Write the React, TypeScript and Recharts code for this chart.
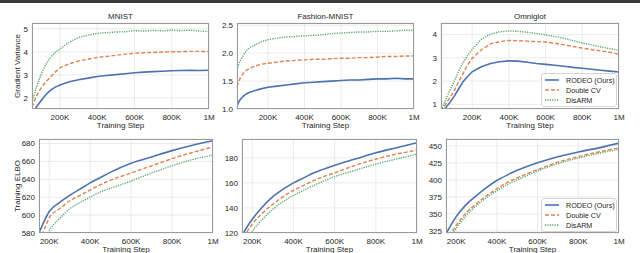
import { LineChart, Line, XAxis, YAxis, CartesianGrid, Legend } from "recharts";

// ---- data (step in thousands) ----
const mnistSteps = [50, 60, 75, 100, 125, 150, 175, 200, 250, 300, 350, 400, 450, 500, 550, 600, 650, 700, 750, 800, 850, 900, 950, 1000];
const mnistRodeo = [1.2, 1.45, 1.62, 1.9, 2.15, 2.34, 2.47, 2.56, 2.7, 2.79, 2.86, 2.93, 2.97, 3.01, 3.05, 3.09, 3.12, 3.14, 3.16, 3.18, 3.19, 3.2, 3.19, 3.2];
const mnistDoubleCV = [1.6, 1.8, 2.1, 2.45, 2.7, 2.92, 3.12, 3.3, 3.48, 3.6, 3.68, 3.76, 3.8, 3.85, 3.9, 3.94, 3.96, 3.97, 3.99, 4.0, 4.01, 4.02, 4.02, 4.01];
const mnistDisarm = [1.8, 2.1, 2.5, 3.05, 3.45, 3.77, 3.98, 4.12, 4.42, 4.62, 4.72, 4.8, 4.83, 4.86, 4.87, 4.92, 4.9, 4.93, 4.91, 4.94, 4.92, 4.94, 4.9, 4.88];

const fashionSteps = [30, 40, 50, 65, 80, 100, 130, 160, 200, 250, 300, 350, 400, 450, 500, 550, 600, 650, 700, 750, 800, 850, 900, 950, 1000];
const fashionRodeo = [1.05, 1.13, 1.18, 1.23, 1.27, 1.3, 1.33, 1.36, 1.39, 1.41, 1.43, 1.45, 1.47, 1.48, 1.49, 1.5, 1.51, 1.52, 1.52, 1.53, 1.54, 1.54, 1.55, 1.54, 1.54];
const fashionDoubleCV = [1.4, 1.5, 1.57, 1.64, 1.69, 1.73, 1.77, 1.8, 1.82, 1.84, 1.86, 1.87, 1.88, 1.89, 1.89, 1.9, 1.91, 1.91, 1.92, 1.92, 1.93, 1.94, 1.94, 1.95, 1.95];
const fashionDisarm = [1.7, 1.8, 1.88, 1.96, 2.04, 2.1, 2.15, 2.2, 2.24, 2.27, 2.29, 2.3, 2.31, 2.32, 2.33, 2.35, 2.36, 2.37, 2.38, 2.38, 2.39, 2.39, 2.4, 2.41, 2.41];

const omniSteps = [30, 50, 75, 100, 125, 150, 175, 200, 250, 300, 350, 400, 450, 500, 550, 600, 650, 700, 750, 800, 850, 900, 950, 1000];
const omniRodeo = [0.6, 0.8, 1.05, 1.32, 1.65, 1.97, 2.2, 2.4, 2.62, 2.76, 2.83, 2.87, 2.86, 2.81, 2.76, 2.72, 2.68, 2.64, 2.59, 2.55, 2.51, 2.47, 2.43, 2.39];
const omniDoubleCV = [0.7, 0.95, 1.25, 1.55, 1.95, 2.33, 2.7, 2.98, 3.35, 3.6, 3.7, 3.75, 3.74, 3.72, 3.7, 3.68, 3.63, 3.56, 3.49, 3.42, 3.36, 3.3, 3.24, 3.16];
const omniDisarm = [0.75, 1.1, 1.55, 1.95, 2.4, 2.8, 3.1, 3.37, 3.8, 4.02, 4.12, 4.16, 4.14, 4.1, 4.05, 3.99, 3.92, 3.84, 3.74, 3.64, 3.56, 3.47, 3.4, 3.32];

const elboSteps = [150, 175, 200, 250, 300, 350, 400, 450, 500, 600, 700, 800, 900, 1000];
const mnistElboRodeo = [580, 593, 604, 614, 622, 629, 636, 642, 648, 658, 665, 672, 678, 683];
const mnistElboDoubleCV = [572, 584, 597, 607, 616, 622, 628, 634, 639, 647, 655, 663, 670, 676];
const mnistElboDisarm = [555, 568, 582, 596, 607, 614, 620, 626, 630, 638, 647, 655, 662, 667];
const fashionElboRodeo = [118, 125, 131, 141, 149, 155, 160, 164, 168, 174, 179, 184, 188, 192];
const fashionElboDoubleCV = [112, 121, 127, 136, 143, 149, 154, 158, 162, 168, 174, 179, 183, 186];
const fashionElboDisarm = [105, 113, 121, 131, 139, 145, 150, 154, 158, 165, 170, 175, 179, 183];
const omniElboRodeo = [321, 334, 346, 364, 377, 389, 399, 407, 414, 425, 434, 441, 447, 454];
const omniElboDoubleCV = [310, 322, 333, 352, 365, 377, 387, 396, 403, 415, 426, 434, 441, 447];
const omniElboDisarm = [306, 318, 329, 348, 362, 374, 384, 393, 400, 413, 424, 432, 439, 445];

const xTicks = [200000, 400000, 600000, 800000, 1000000];
const seriesNames = ["RODEO (Ours)", "Double CV", "DisARM"];

const FONT = '"Liberation Sans", Arial, sans-serif';
const TEXT = "#262626";
const BLUE = "#4c72b0";
const ORANGE = "#dd8452";
const GREEN = "#55a868";

const rows = (steps: number[], a: number[], b: number[], c: number[]) =>
  steps.map((s, i) => ({ step: s * 1000, rodeo: a[i], dcv: b[i], disarm: c[i] }));

const fmtX = (v: number) => (v >= 1000000 ? "1M" : `${v / 1000}K`);

const YW = 28;
const MT = 2;
const MR = 12;
const XH = 14;

function LegendBox() {
  const items = [
    { name: seriesNames[0], color: BLUE, dash: undefined, w: 1.6 },
    { name: seriesNames[1], color: ORANGE, dash: "4 2", w: 1.4 },
    { name: seriesNames[2], color: GREEN, dash: "1.2 1.2", w: 1.4 },
  ];
  return (
    <div
      style={{
        border: "1px solid #d4d4d4",
        borderRadius: 3,
        background: "rgba(255,255,255,0.9)",
        padding: "1px 0 1px 2px",
        boxSizing: "border-box",
        width: 76,
        fontFamily: FONT,
        fontSize: 7.2,
        color: TEXT,
      }}
    >
      {items.map((it) => (
        <div key={it.name} style={{ display: "flex", alignItems: "center", height: 10 }}>
          <svg width={16} height={6} style={{ marginRight: 6 }}>
            <line x1={1} y1={3} x2={15} y2={3} stroke={it.color} strokeWidth={it.w} strokeDasharray={it.dash} />
          </svg>
          <span>{it.name}</span>
        </div>
      ))}
    </div>
  );
}

type PanelProps = {
  x: number;
  y: number;
  w: number;
  h: number;
  data: any[];
  xMin: number;
  yDomain: [number, number];
  yTicks: number[];
  yFmt?: (v: number) => string;
  title?: string;
  legendAt?: [number, number];
  smooth?: boolean;
};

function Panel({ x, y, w, h, data, xMin, yDomain, yTicks, yFmt, title, legendAt, smooth }: PanelProps) {
  const lineType = smooth ? "monotone" : "linear";
  return (
    <>
      {title && (
        <div
          style={{
            position: "absolute",
            left: x,
            width: w,
            top: y - 10,
            textAlign: "center",
            fontFamily: FONT,
            fontSize: 8,
            color: TEXT,
            lineHeight: "8px",
          }}
        >
          {title}
        </div>
      )}
      <div style={{ position: "absolute", left: x - YW, top: y - MT }}>
        <LineChart width={YW + w + MR} height={MT + h + XH} data={data} margin={{ top: MT, right: MR, left: 0, bottom: 0 }}>
          <CartesianGrid stroke="#e6e6e6" strokeWidth={0.8} />
          <XAxis
            dataKey="step"
            type="number"
            domain={[xMin, 1000000]}
            allowDataOverflow
            ticks={xTicks}
            tickFormatter={fmtX}
            height={XH}
            axisLine={false}
            tickLine={false}
            tickSize={3}
            tickMargin={2}
            tick={{ fontSize: 8, fill: TEXT, fontFamily: FONT }}
            interval={0}
          />
          <YAxis
            type="number"
            domain={yDomain}
            allowDataOverflow
            ticks={yTicks}
            tickFormatter={yFmt}
            width={YW}
            axisLine={false}
            tickLine={false}
            tickSize={2}
            tickMargin={2}
            tick={{ fontSize: 8, fill: TEXT, fontFamily: FONT }}
            interval={0}
          />
          <Line type={lineType} dataKey="rodeo" stroke={BLUE} strokeWidth={1.6} dot={false} isAnimationActive={false} />
          <Line type={lineType} dataKey="dcv" stroke={ORANGE} strokeWidth={1.4} strokeDasharray="4 2" dot={false} isAnimationActive={false} />
          <Line type={lineType} dataKey="disarm" stroke={GREEN} strokeWidth={1.4} strokeDasharray="1.2 1.2" dot={false} isAnimationActive={false} />
          {legendAt && (
            <Legend
              layout="vertical"
              align="center"
              verticalAlign="middle"
              content={() => <LegendBox />}
              wrapperStyle={{ left: legendAt[0] - (x - YW), top: legendAt[1] - (y - MT), right: "auto", bottom: "auto", width: 76 }}
            />
          )}
        </LineChart>
      </div>
      <div
        style={{
          position: "absolute",
          left: x,
          top: y,
          width: w,
          height: h,
          border: "1px solid #9a9a9a",
          boxSizing: "border-box",
          pointerEvents: "none",
        }}
      />
      <div
        style={{
          position: "absolute",
          left: x,
          width: w,
          top: y + h + 13,
          textAlign: "center",
          fontFamily: FONT,
          fontSize: 8,
          color: TEXT,
          lineHeight: "8px",
        }}
      >
        Training Step
      </div>
    </>
  );
}

function YLabel({ text, cx, cy }: { text: string; cx: number; cy: number }) {
  return (
    <div
      style={{
        position: "absolute",
        left: cx - 50,
        top: cy - 5,
        width: 100,
        height: 10,
        lineHeight: "10px",
        textAlign: "center",
        transform: "rotate(-90deg)",
        fontFamily: FONT,
        fontSize: 8,
        color: TEXT,
        whiteSpace: "nowrap",
      }}
    >
      {text}
    </div>
  );
}

export default function App() {
  return (
    <div style={{ position: "absolute", left: 0, top: 0, width: 640, height: 253, background: "#fff", overflow: "hidden" }}>
      <div style={{ position: "absolute", left: 0, top: 0, width: 640, height: 3, background: "#3a3a3a" }} />

      <Panel x={32} y={23} w={177} h={86} data={rows(mnistSteps, mnistRodeo, mnistDoubleCV, mnistDisarm)} xMin={50000} yDomain={[1.52, 5.25]} yTicks={[2, 3, 4, 5]} title="MNIST" />
      <Panel x={237} y={23} w={177} h={86} data={rows(fashionSteps, fashionRodeo, fashionDoubleCV, fashionDisarm)} xMin={30000} yDomain={[1.0, 2.54]} yTicks={[1.0, 1.5, 2.0, 2.5]} yFmt={(v) => v.toFixed(1)} title="Fashion-MNIST" />
      <Panel x={441} y={23} w={178} h={86} data={rows(omniSteps, omniRodeo, omniDoubleCV, omniDisarm)} xMin={30000} yDomain={[0.8, 4.5]} yTicks={[1, 2, 3, 4]} title="Omniglot" legendAt={[541, 73]} />

      <Panel x={39} y={139} w={174} h={94} data={rows(elboSteps, mnistElboRodeo, mnistElboDoubleCV, mnistElboDisarm)} xMin={150000} yDomain={[580, 685]} yTicks={[580, 600, 620, 640, 660, 680]} smooth />
      <Panel x={242} y={139} w={175} h={94} data={rows(elboSteps, fashionElboRodeo, fashionElboDoubleCV, fashionElboDisarm)} xMin={150000} yDomain={[120, 195]} yTicks={[120, 140, 160, 180]} smooth />
      <Panel x={446} y={139} w={173} h={94} data={rows(elboSteps, omniElboRodeo, omniElboDoubleCV, omniElboDisarm)} xMin={150000} yDomain={[322, 460]} yTicks={[325, 350, 375, 400, 425, 450]} smooth legendAt={[541, 198]} />

      <YLabel text="Gradient Variance" cx={18} cy={66} />
      <YLabel text="Training ELBO" cx={18} cy={186} />
    </div>
  );
}
